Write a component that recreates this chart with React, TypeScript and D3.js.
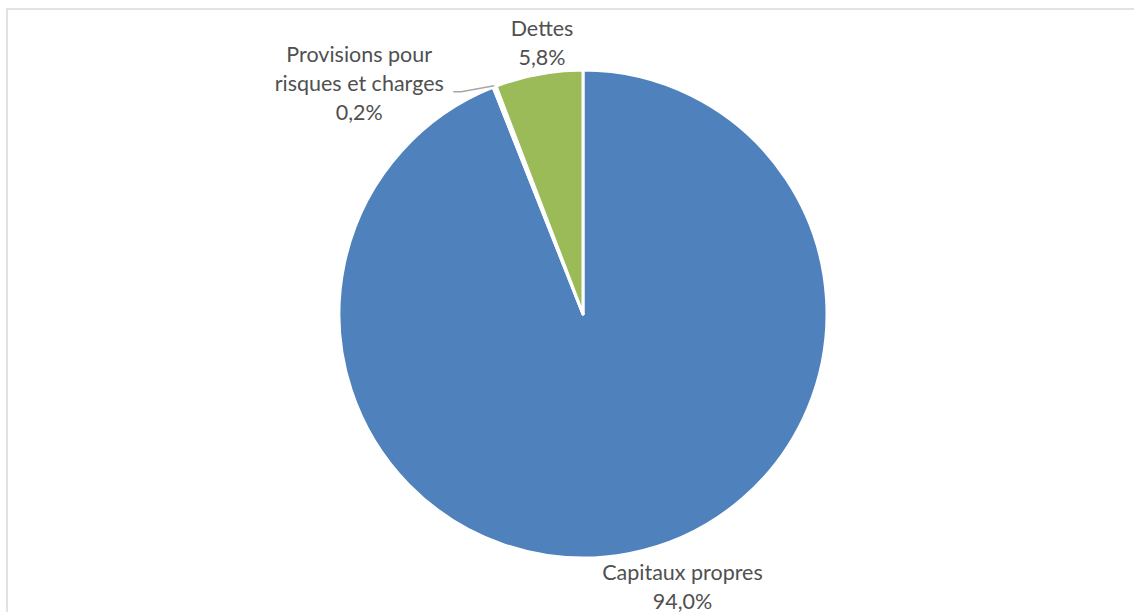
import React from "react";
import * as d3 from "d3";

const categories = ["Capitaux propres", "Provisions pour risques et charges", "Dettes"];
const values = [94.0, 0.2, 5.8];
const labelLines = [["Capitaux propres", "94,0%"], ["Provisions pour", "risques et charges", "0,2%"], ["Dettes", "5,8%"]];
const colors = ["#4F81BD", "#C0504D", "#9BBB59"];

const W = 1134, H = 612;
const cx = 583, cy = 314, R = 244;
const fontSize = 21.5;
const lineH = 29;
const textColor = "#505050";

export default function App() {
  const pie = d3.pie<number>().sort(null).value((d) => d)(values);
  const arc = d3.arc<d3.PieArcDatum<number>>().innerRadius(0).outerRadius(R);

  const mid = (p: d3.PieArcDatum<number>) => (p.startAngle + p.endAngle) / 2;
  const pt = (a: number, r: number) => [cx + r * Math.sin(a), cy - r * Math.cos(a)];

  const labels = pie.map((p, i) => {
    const a = mid(p);
    if (i === 0) {
      const [x, y] = pt(a, R + 4);
      return { x: x + 53, yTop: y + 5, anchor: "middle", lines: labelLines[i], leader: null as any };
    }
    if (i === 2) {
      const [x, y] = pt(a, R + 4);
      return { x: x + 4, yTop: y - 51, anchor: "middle", lines: labelLines[i], leader: null as any };
    }
    const [x0, y0] = pt(a, R + 1);
    const elbow = [x0 - 33, y0 + 6];
    const end = [x0 - 41, y0 + 6];
    return {
      x: end[0] - 94,
      yTop: y0 - 41,
      anchor: "middle",
      lines: labelLines[i],
      leader: [[x0, y0], elbow, end],
    };
  });

  return (
    <svg width={W} height={H} style={{ position: "absolute", left: 0, top: 0 }} fontFamily="Lato, 'Noto Sans', sans-serif">
      <rect x={7} y={9} width={W + 10} height={H + 10} fill="#fff" stroke="#D9D9D9" strokeWidth={1.5} />
      <g transform={`translate(${cx},${cy})`}>
        {pie.map((p, i) => (
          <path key={categories[i]} d={arc(p) || ""} fill={colors[i]} stroke="#fff" strokeWidth={3} strokeLinejoin="round" />
        ))}
      </g>
      {labels.map((l, i) => (
        <g key={i}>
          {l.leader && (
            <polyline points={l.leader.map((q: number[]) => q.join(",")).join(" ")} fill="none" stroke="#A6A6A6" strokeWidth={1.5} />
          )}
          {l.lines.map((t, j) => (
            <text key={j} x={l.x} y={l.yTop + j * lineH} dy="0.8em" textAnchor={l.anchor as any} fontSize={fontSize} fill={textColor}>
              {t}
            </text>
          ))}
        </g>
      ))}
    </svg>
  );
}
